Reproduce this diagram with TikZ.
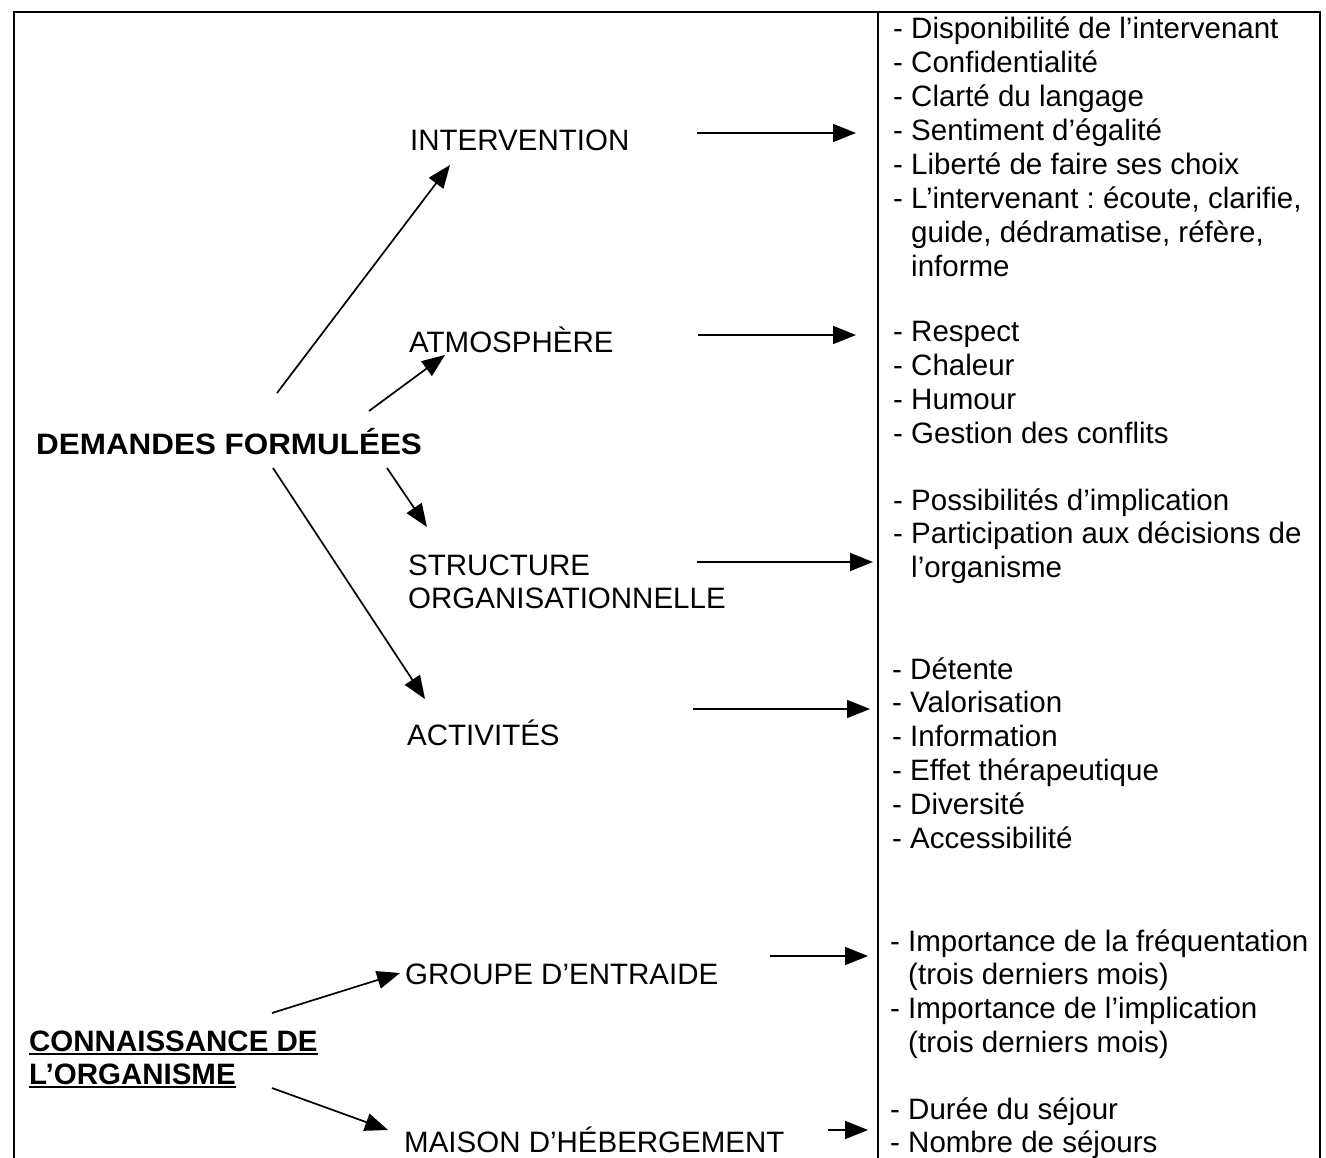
\documentclass[tikz,border=0pt]{standalone}
\usepackage{fontspec}
\setmainfont{Liberation Sans}
\usetikzlibrary{arrows.meta}
\newcommand\fsz{\fontsize{29.5}{33.9}\selectfont\frenchspacing}
\newcommand\hang{\hphantom{- }}
\begin{document}
\begin{tikzpicture}[x=1pt,y=-1pt,
  lbl/.style={anchor=base west, inner sep=0pt, font=\fsz},
  lst/.style={anchor=base west, inner sep=0pt, font=\fsz},
  arr/.style={-{Triangle[length=23pt,width=18pt]}, line width=1.7pt},
  frame/.style={line width=1.8pt},
  uline/.style={line width=2.2pt}]
\useasboundingbox (0,0) rectangle (1326,1158);
\fill[white] (0,0) rectangle (1326,1158);
% frame
\draw[frame] (14,1160) -- (14,12) -- (1320,12) -- (1320,1160);
\draw[frame] (878,12) -- (878,1160);

% left labels
\node[lbl] (int) at (410,151) {INTERVENTION};
\node[lbl] (atm) at (409,353) {ATMOSPH\`ERE};
\node[lbl,font=\fsz\bfseries] (dem) at (36,454) {\scalebox{1.065}[1]{DEMANDES FORMUL\'EES}};
\node[lbl] (str) at (408,575) {\begin{tabular}[t]{@{}l@{}}STRUCTURE\\ORGANISATIONNELLE\end{tabular}};
\node[lbl] (act) at (407,745) {ACTIVIT\'ES};
\node[lbl] (grp) at (405,984) {GROUPE D’ENTRAIDE};
\node[lbl] (mai) at (404,1152) {MAISON D’H\'EBERGEMENT};
\node[lbl,font=\fsz\bfseries] (con1) at (29,1051) {CONNAISSANCE DE};
\node[lbl,font=\fsz\bfseries] (con2) at (29,1084) {L’ORGANISME};
\draw[uline] ([yshift=-3pt]con1.base west) -- ([yshift=-3pt]con1.base east);
\draw[uline] ([yshift=-3pt]con2.base west) -- ([yshift=-3pt]con2.base east);

% right lists
\node[lst] (l1) at (893,39) {\begin{tabular}[t]{@{}l@{}}
- Disponibilit\'e de l’intervenant\\
- Confidentialit\'e\\
- Clart\'e du langage\\
- Sentiment d’\'egalit\'e\\
- Libert\'e de faire ses choix\\
- L’intervenant : \'ecoute, clarifie,\\
\hang guide, d\'edramatise, r\'ef\`ere,\\
\hang informe\end{tabular}};
\node[lst] (l2) at (893,342) {\begin{tabular}[t]{@{}l@{}}
- Respect\\
- Chaleur\\
- Humour\\
- Gestion des conflits\end{tabular}};
\node[lst] (l3) at (893,510) {\begin{tabular}[t]{@{}l@{}}
- Possibilit\'es d’implication\\
- Participation aux d\'ecisions de\\
\hang l’organisme\end{tabular}};
\node[lst] (l4) at (892,679) {\begin{tabular}[t]{@{}l@{}}
- D\'etente\\
- Valorisation\\
- Information\\
- Effet th\'erapeutique\\
- Diversit\'e\\
- Accessibilit\'e\end{tabular}};
\node[lst] (l5) at (890,951) {\begin{tabular}[t]{@{}l@{}}
- Importance de la fr\'equentation\\
\hang (trois derniers mois)\\
- Importance de l’implication\\
\hang (trois derniers mois)\end{tabular}};
\node[lst] (l6) at (890,1119) {\begin{tabular}[t]{@{}l@{}}
- Dur\'ee du s\'ejour\\
- Nombre de s\'ejours\end{tabular}};

% connector end points
\coordinate (a1s) at (277,393); \coordinate (a1e) at (450,165);
\coordinate (a2s) at (369,411); \coordinate (a2e) at (445,355);
\coordinate (a3s) at (387,468); \coordinate (a3e) at (427,527);
\coordinate (a4s) at (273,468); \coordinate (a4e) at (425,699);
\coordinate (b1s) at (697,133); \coordinate (b1e) at (856,133);
\coordinate (b2s) at (698,335); \coordinate (b2e) at (856,335);
\coordinate (b3s) at (697,562); \coordinate (b3e) at (873,562);
\coordinate (b4s) at (693,709); \coordinate (b4e) at (870,709);
\coordinate (c1s) at (272,1013); \coordinate (c1e) at (400,973);
\coordinate (c2s) at (272,1088); \coordinate (c2e) at (388,1130);
\coordinate (d1s) at (770,956); \coordinate (d1e) at (868,956);
\coordinate (d2s) at (828,1130); \coordinate (d2e) at (868,1130);

\draw[arr] (a1s) -- (a1e);
\draw[arr] (a2s) -- (a2e);
\draw[arr] (a3s) -- (a3e);
\draw[arr] (a4s) -- (a4e);
\draw[arr] (b1s) -- (b1e);
\draw[arr] (b2s) -- (b2e);
\draw[arr] (b3s) -- (b3e);
\draw[arr] (b4s) -- (b4e);
\draw[arr] (c1s) -- (c1e);
\draw[arr] (c2s) -- (c2e);
\draw[arr] (d1s) -- (d1e);
\draw[arr] (d2s) -- (d2e);
\end{tikzpicture}
\end{document}
